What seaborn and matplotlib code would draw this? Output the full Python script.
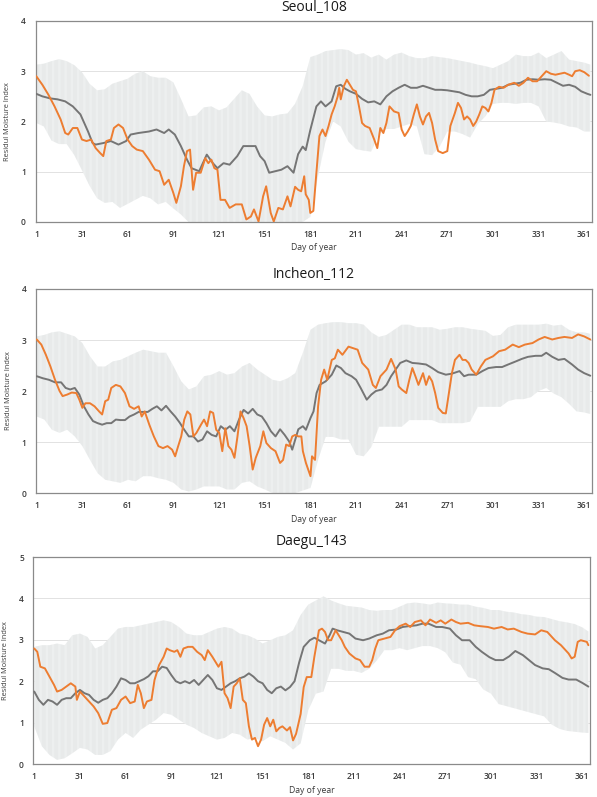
import matplotlib
matplotlib.use("Agg")
import matplotlib.pyplot as plt
import seaborn as sns

# band (error bar range) sampled every 5 days
band_days = list(range(1, 362, 5)) + [365]
day_ticks = list(range(1, 362, 30))

# ---------------- Seoul_108 ----------------
seoul_upper = [3.13, 3.15, 3.2, 3.24, 3.2, 3.12, 2.98, 2.75, 2.62, 2.64,
               2.75, 2.8, 2.85, 2.95, 3.0, 2.9, 2.87, 2.87, 2.78, 2.45,
               2.1, 2.12, 2.28, 2.3, 2.22, 2.28, 2.45, 2.62, 2.55, 2.3,
               2.12, 2.1, 2.14, 2.16, 2.35, 2.7, 3.28, 3.33, 3.4, 3.42,
               3.44, 3.42, 3.33, 3.36, 3.27, 3.33, 3.23, 3.33, 3.37, 3.3,
               3.26, 3.26, 3.3, 3.28, 3.26, 3.23, 3.2, 3.17, 3.13, 3.1,
               3.06, 3.13, 3.2, 3.33, 3.3, 3.3, 3.37, 3.26, 3.33, 3.4,
               3.23, 3.2, 3.17, 3.13]
seoul_lower = [1.97, 1.9, 1.62, 1.55, 1.55, 1.33, 1.03, 0.72, 0.47, 0.38,
               0.4, 0.28, 0.36, 0.44, 0.52, 0.47, 0.35, 0.4, 0.27, 0.15,
               0, 0, 0, 0, 0, 0, 0, 0, 0, 0,
               0, 0, 0, 0, 0, 0, 0.1, 0.9, 1.6, 2.0,
               1.9, 1.6, 1.45, 1.42, 1.4, 1.75, 1.85, 1.85, 1.9, 1.95,
               1.9, 1.35, 1.33, 1.5, 1.8, 1.8, 1.75, 1.68, 1.95, 2.1,
               2.35, 2.37, 2.37, 2.35, 2.37, 2.37, 2.3, 2.0, 1.98, 1.95,
               1.9, 1.88, 1.8, 1.8]
seoul_mean_days = [1, 5, 10, 15, 20, 25, 30, 35, 38, 40, 45, 50, 55, 60, 63, 68, 75, 80, 85, 88,
                   92, 96, 100, 103, 108, 113, 117, 120, 124, 128, 133, 137, 141, 145, 148, 151, 154, 158, 162, 166,
                   170, 173, 176, 178, 181, 185, 188, 191, 195, 198, 201, 204, 207, 211, 215, 219, 223, 227, 231, 235,
                   239, 243, 247, 251, 255, 259, 263, 267, 271, 275, 279, 283, 287, 291, 295, 299, 303, 307, 311, 315,
                   319, 323, 327, 331, 335, 339, 343, 347, 351, 355, 359, 363, 365]
seoul_mean = [2.55, 2.50, 2.46, 2.44, 2.40, 2.30, 2.14, 1.80, 1.57, 1.54, 1.57, 1.61, 1.54, 1.61, 1.74, 1.77, 1.80, 1.84, 1.77, 1.84,
              1.74, 1.51, 1.24, 1.07, 1.01, 1.34, 1.17, 1.07, 1.17, 1.14, 1.31, 1.51, 1.51, 1.51, 1.31, 1.21, 0.98, 1.01, 1.04, 1.11,
              0.98, 1.35, 1.50, 1.43, 1.83, 2.30, 2.40, 2.30, 2.40, 2.70, 2.73, 2.65, 2.60, 2.55, 2.45, 2.38, 2.40, 2.34, 2.50, 2.60,
              2.67, 2.73, 2.67, 2.67, 2.71, 2.67, 2.63, 2.63, 2.62, 2.60, 2.58, 2.53, 2.50, 2.50, 2.53, 2.63, 2.65, 2.67, 2.73, 2.75,
              2.77, 2.83, 2.84, 2.83, 2.84, 2.83, 2.77, 2.71, 2.73, 2.69, 2.60, 2.55, 2.53]
seoul_year_days = [1, 5, 9, 13, 17, 20, 22, 25, 28, 31, 34, 37, 40, 43, 45, 47, 50, 52, 55, 58,
                   61, 64, 67, 71, 75, 79, 82, 85, 88, 91, 93, 96, 98, 100, 102, 104, 106, 109, 112, 114,
                   116, 118, 120, 122, 125, 128, 132, 136, 139, 142, 144, 147, 150, 152, 155, 157, 160, 163, 166, 168,
                   171, 173, 175, 177, 178, 180, 181, 183, 185, 187, 189, 191, 193, 195, 197, 199, 200, 201, 203, 205,
                   207, 209, 211, 213, 215, 217, 220, 223, 225, 227, 229, 231, 233, 236, 239, 241, 243, 245, 247, 249,
                   251, 253, 255, 257, 259, 261, 263, 265, 268, 271, 273, 276, 278, 280, 282, 284, 286, 288, 290, 292,
                   294, 296, 298, 300, 302, 305, 308, 311, 315, 318, 321, 324, 327, 330, 333, 336, 339, 342, 345, 348,
                   351, 353, 355, 358, 361, 364]
seoul_year = [2.90, 2.73, 2.53, 2.30, 2.04, 1.77, 1.74, 1.87, 1.87, 1.64, 1.61, 1.64, 1.47, 1.37, 1.31, 1.61, 1.64, 1.87, 1.94, 1.87,
              1.64, 1.51, 1.44, 1.41, 1.24, 1.04, 1.01, 0.74, 0.84, 0.58, 0.38, 0.71, 1.11, 1.41, 1.44, 0.64, 0.98, 0.98, 1.27, 1.17,
              1.24, 1.07, 1.04, 0.44, 0.44, 0.28, 0.35, 0.35, 0.05, 0.11, 0.25, 0.01, 0.51, 0.71, 0.18, 0.01, 0.28, 0.25, 0.51, 0.31,
              0.70, 0.64, 0.61, 0.91, 0.55, 0.44, 0.18, 0.22, 0.98, 1.71, 1.84, 1.71, 1.91, 2.14, 2.30, 2.50, 2.67, 2.44, 2.70, 2.83,
              2.73, 2.63, 2.60, 2.30, 1.97, 1.91, 1.87, 1.64, 1.47, 1.87, 1.77, 1.97, 2.30, 2.20, 2.17, 1.84, 1.71, 1.80, 1.91, 2.14,
              2.34, 2.10, 1.94, 2.10, 2.17, 1.97, 1.64, 1.41, 1.37, 1.41, 1.91, 2.17, 2.37, 2.27, 2.04, 2.10, 2.04, 1.91, 2.00, 2.14,
              2.30, 2.27, 2.20, 2.37, 2.63, 2.69, 2.67, 2.73, 2.77, 2.71, 2.77, 2.87, 2.80, 2.80, 2.90, 3.00, 2.95, 2.93, 2.95, 2.97,
              2.93, 2.90, 3.00, 3.02, 2.98, 2.91]

# ---------------- Incheon_112 ----------------
incheon_upper = [3.07, 3.1, 3.15, 3.17, 3.12, 3.07, 2.94, 2.68, 2.48, 2.48,
                 2.58, 2.61, 2.68, 2.75, 2.81, 2.78, 2.75, 2.75, 2.48, 2.19,
                 2.03, 2.09, 2.29, 2.32, 2.39, 2.32, 2.35, 2.48, 2.55, 2.42,
                 2.32, 2.22, 2.19, 2.25, 2.35, 2.75, 3.2, 3.3, 3.33, 3.35,
                 3.35, 3.33, 3.33, 3.3, 3.15, 3.06, 3.1, 3.2, 3.3, 3.3,
                 3.25, 3.25, 3.25, 3.2, 3.22, 3.25, 3.25, 3.22, 3.2, 3.18,
                 3.08, 3.1, 3.25, 3.3, 3.3, 3.3, 3.3, 3.32, 3.28, 3.3,
                 3.2, 3.15, 3.15, 3.12]
incheon_lower = [1.5, 1.44, 1.24, 1.18, 1.24, 1.11, 0.92, 0.65, 0.39, 0.26,
                 0.23, 0.2, 0.26, 0.23, 0.33, 0.33, 0.29, 0.26, 0.2, 0.07,
                 0.03, 0.07, 0.13, 0.13, 0.13, 0.07, 0.07, 0.2, 0.23, 0.13,
                 0.07, 0, 0, 0, 0, 0.05, 0.1, 0.65, 1.1, 1.1,
                 1.05, 1.05, 0.75, 0.72, 0.9, 1.3, 1.3, 1.3, 1.3, 1.43,
                 1.43, 1.43, 1.43, 1.37, 1.37, 1.37, 1.37, 1.4, 1.69, 1.69,
                 1.69, 1.69, 1.8, 1.84, 1.84, 1.88, 2.0, 2.06, 1.95, 1.88,
                 1.75, 1.6, 1.58, 1.55]
incheon_mean_days = [1, 5, 9, 13, 17, 20, 23, 26, 29, 32, 35, 38, 41, 44, 47, 50, 53, 56, 59, 62,
                     65, 68, 71, 74, 77, 80, 83, 86, 89, 92, 95, 98, 101, 104, 107, 110, 113, 116, 119, 122,
                     125, 128, 131, 134, 137, 140, 143, 146, 149, 152, 155, 158, 161, 164, 167, 169, 171, 173, 176, 178,
                     181, 183, 185, 187, 191, 195, 198, 201, 204, 208, 211, 214, 218, 221, 224, 228, 231, 234, 237, 240,
                     244, 248, 252, 257, 261, 265, 270, 274, 279, 282, 285, 290, 294, 298, 303, 307, 311, 316, 320, 324,
                     329, 333, 336, 340, 344, 348, 353, 357, 361, 365]
incheon_mean = [2.29, 2.25, 2.22, 2.17, 2.17, 2.06, 2.03, 2.06, 1.93, 1.70, 1.54, 1.41, 1.37, 1.34, 1.37, 1.37, 1.44, 1.43, 1.43, 1.50,
                1.54, 1.59, 1.59, 1.59, 1.65, 1.70, 1.62, 1.71, 1.60, 1.50, 1.38, 1.24, 1.11, 1.11, 1.01, 1.05, 1.21, 1.14, 1.11, 1.31,
                1.24, 1.31, 1.21, 1.44, 1.63, 1.56, 1.65, 1.54, 1.50, 1.37, 1.21, 1.11, 1.25, 1.14, 1.01, 0.85, 1.05, 1.25, 1.31, 1.24,
                1.47, 1.60, 1.96, 2.12, 2.19, 2.32, 2.50, 2.45, 2.35, 2.29, 2.22, 2.06, 1.83, 1.93, 2.00, 2.03, 2.12, 2.29, 2.42, 2.55,
                2.60, 2.55, 2.54, 2.52, 2.45, 2.37, 2.32, 2.34, 2.39, 2.29, 2.32, 2.32, 2.39, 2.45, 2.47, 2.47, 2.52, 2.58, 2.63, 2.67,
                2.69, 2.69, 2.75, 2.67, 2.61, 2.63, 2.52, 2.42, 2.35, 2.30]
incheon_year_days = [1, 4, 7, 10, 13, 16, 18, 21, 24, 27, 29, 31, 33, 36, 39, 42, 44, 46, 48, 50,
                     53, 56, 59, 62, 65, 68, 70, 72, 75, 78, 81, 84, 87, 90, 92, 94, 96, 98, 100, 102,
                     104, 106, 109, 111, 113, 115, 117, 119, 121, 123, 125, 127, 129, 131, 133, 135, 137, 139, 141, 143,
                     145, 148, 150, 152, 155, 158, 161, 163, 165, 167, 169, 171, 173, 175, 176, 178, 181, 182, 184, 186,
                     188, 190, 192, 195, 197, 199, 202, 206, 209, 212, 215, 219, 222, 224, 227, 231, 234, 237, 239, 241,
                     244, 246, 248, 250, 252, 255, 257, 259, 261, 263, 265, 268, 270, 272, 274, 276, 279, 281, 283, 285,
                     287, 290, 293, 296, 301, 305, 309, 314, 318, 322, 327, 331, 335, 340, 344, 348, 353, 357, 361, 365]
incheon_year = [3.01, 2.91, 2.71, 2.48, 2.22, 2.00, 1.90, 1.93, 1.97, 1.96, 1.83, 1.67, 1.76, 1.76, 1.70, 1.60, 1.54, 1.80, 1.83, 2.06,
                2.12, 2.09, 1.96, 1.70, 1.65, 1.70, 1.50, 1.60, 1.34, 1.11, 0.92, 0.88, 0.92, 0.85, 0.72, 0.92, 1.11, 1.44, 1.60, 1.54,
                1.11, 1.18, 1.34, 1.44, 1.31, 1.60, 1.57, 1.24, 1.18, 0.82, 1.27, 0.92, 0.85, 0.69, 1.11, 1.60, 1.47, 1.31, 0.92, 0.46,
                0.69, 0.92, 1.21, 0.98, 0.88, 0.82, 0.59, 0.65, 0.95, 0.92, 1.11, 1.14, 1.11, 1.11, 0.82, 0.59, 0.33, 0.72, 0.65, 1.70,
                2.22, 2.42, 2.22, 2.61, 2.64, 2.81, 2.71, 2.87, 2.84, 2.81, 2.55, 2.42, 2.12, 2.06, 2.29, 2.42, 2.63, 2.42, 2.09, 2.03,
                1.96, 2.22, 2.45, 2.29, 2.12, 2.35, 2.12, 2.29, 2.19, 1.96, 1.67, 1.57, 1.56, 1.96, 2.35, 2.61, 2.71, 2.61, 2.61, 2.55,
                2.42, 2.32, 2.48, 2.61, 2.68, 2.78, 2.81, 2.91, 2.86, 2.91, 2.94, 3.01, 3.06, 3.01, 3.04, 3.06, 3.04, 3.11, 3.07, 3.01]

# ---------------- Daegu_143 ----------------
daegu_upper = [2.83, 2.87, 2.87, 2.91, 2.87, 3.11, 3.15, 3.07, 2.79, 2.87,
               3.07, 3.27, 3.31, 3.31, 3.35, 3.39, 3.43, 3.47, 3.43, 3.31,
               3.15, 3.11, 3.11, 3.19, 3.27, 3.31, 3.27, 3.15, 3.11, 3.03,
               2.91, 2.99, 3.07, 3.11, 3.23, 3.6, 3.85, 3.95, 4.05, 3.95,
               3.88, 3.82, 3.8, 3.78, 3.72, 3.7, 3.72, 3.72, 3.8, 3.88,
               3.9, 3.88, 3.85, 3.9, 3.88, 3.87, 3.85, 3.85, 3.8, 3.77,
               3.72, 3.72, 3.68, 3.66, 3.62, 3.6, 3.56, 3.55, 3.5, 3.45,
               3.42, 3.38, 3.3, 3.2]
daegu_lower = [0.91, 0.43, 0.22, 0.1, 0.14, 0.26, 0.39, 0.35, 0.22, 0.22,
               0.31, 0.59, 0.75, 0.63, 0.83, 0.95, 1.07, 1.23, 1.19, 1.07,
               0.95, 0.87, 0.75, 0.67, 0.59, 0.63, 0.75, 0.71, 0.59, 0.63,
               0.55, 0.67, 0.59, 0.51, 0.35, 0.5, 1.3, 1.7, 1.75, 2.3,
               2.3, 2.25, 2.25, 2.2, 2.3, 2.5, 2.75, 2.75, 2.8, 2.75,
               2.8, 2.85, 2.85, 2.8, 2.7, 2.45, 2.4, 2.1, 2.05, 1.8,
               1.7, 1.45, 1.4, 1.35, 1.3, 1.25, 1.2, 1.15, 0.95, 0.85,
               0.8, 0.78, 0.76, 0.75]
daegu_mean_days = [1, 4, 7, 10, 13, 16, 19, 22, 25, 28, 31, 34, 37, 40, 43, 46, 49, 52, 55, 58,
                   61, 64, 67, 70, 73, 76, 79, 82, 85, 88, 91, 94, 97, 100, 103, 106, 109, 112, 115, 118,
                   121, 124, 127, 130, 133, 136, 139, 142, 145, 148, 151, 154, 157, 160, 163, 166, 169, 172, 175, 178,
                   182, 185, 188, 192, 195, 197, 200, 204, 208, 212, 217, 221, 226, 230, 234, 239, 243, 247, 252, 256,
                   260, 265, 269, 274, 278, 282, 287, 291, 295, 300, 304, 309, 313, 317, 322, 326, 330, 335, 339, 343,
                   348, 352, 357, 361, 365]
daegu_mean = [1.75, 1.55, 1.43, 1.55, 1.51, 1.43, 1.55, 1.59, 1.59, 1.71, 1.79, 1.71, 1.67, 1.55, 1.48, 1.55, 1.59, 1.71, 1.87, 2.07,
              2.03, 1.95, 1.95, 2.00, 2.05, 2.12, 2.24, 2.24, 2.35, 2.32, 2.15, 2.00, 1.95, 2.00, 1.95, 2.03, 1.91, 2.03, 2.15, 2.03,
              1.83, 1.79, 1.87, 1.95, 2.00, 2.07, 2.11, 2.19, 2.11, 2.00, 1.95, 1.79, 1.71, 1.83, 1.87, 1.78, 1.86, 2.00, 2.45, 2.83,
              2.99, 3.05, 2.99, 2.91, 3.11, 3.27, 3.23, 3.19, 3.15, 3.03, 2.99, 3.03, 3.11, 3.15, 3.23, 3.25, 3.31, 3.33, 3.35, 3.39,
              3.39, 3.31, 3.31, 3.27, 3.11, 2.99, 2.99, 2.83, 2.71, 2.58, 2.51, 2.51, 2.60, 2.73, 2.63, 2.51, 2.39, 2.31, 2.29, 2.20,
              2.08, 2.04, 2.04, 1.96, 1.87]
daegu_year_days = [1, 3, 5, 8, 11, 14, 16, 19, 22, 25, 28, 29, 31, 34, 37, 40, 43, 46, 49, 52,
                   55, 58, 61, 64, 67, 69, 71, 73, 75, 78, 80, 83, 86, 88, 90, 93, 95, 97, 99, 102,
                   105, 108, 111, 113, 115, 118, 120, 122, 124, 126, 128, 130, 132, 134, 136, 138, 140, 142, 144, 146,
                   148, 150, 152, 154, 156, 158, 160, 162, 164, 167, 169, 171, 173, 176, 178, 180, 183, 185, 188, 190,
                   192, 194, 196, 199, 201, 203, 205, 208, 212, 215, 218, 221, 223, 225, 227, 231, 235, 238, 241, 245,
                   248, 251, 255, 258, 261, 265, 268, 271, 275, 278, 281, 286, 290, 294, 299, 303, 308, 312, 316, 321,
                   325, 330, 334, 338, 343, 347, 352, 354, 356, 358, 360, 364, 365]
daegu_year = [2.79, 2.71, 2.35, 2.31, 2.11, 1.91, 1.75, 1.79, 1.87, 1.95, 1.87, 1.55, 1.75, 1.63, 1.51, 1.39, 1.23, 0.97, 0.99, 1.31,
              1.35, 1.55, 1.63, 1.47, 1.51, 1.91, 1.71, 1.35, 1.51, 1.55, 2.03, 2.39, 2.59, 2.79, 2.75, 2.71, 2.75, 2.59, 2.79, 2.83,
              2.83, 2.71, 2.63, 2.51, 2.75, 2.59, 2.47, 2.35, 2.47, 1.71, 1.59, 1.35, 1.87, 1.95, 2.07, 1.55, 1.47, 0.91, 0.59, 0.63,
              0.43, 0.59, 0.95, 1.11, 0.91, 1.07, 0.79, 0.87, 0.91, 0.81, 0.89, 0.57, 0.73, 1.21, 1.86, 2.10, 2.10, 2.59, 3.23, 3.27,
              3.19, 2.99, 2.99, 3.23, 3.11, 2.99, 2.83, 2.67, 2.55, 2.51, 2.35, 2.35, 2.51, 2.79, 2.99, 3.03, 3.07, 3.23, 3.33, 3.39,
              3.31, 3.43, 3.47, 3.35, 3.49, 3.41, 3.47, 3.39, 3.49, 3.43, 3.39, 3.41, 3.35, 3.33, 3.31, 3.27, 3.31, 3.25, 3.27, 3.19,
              3.15, 3.13, 3.23, 3.19, 2.99, 2.87, 2.67, 2.55, 2.59, 2.95, 2.99, 2.95, 2.87]

sns.set_style("white")
plt.rcParams['font.family'] = ['Open Sans', 'DejaVu Sans']
plt.rcParams['hatch.linewidth'] = 0.3

orange = '#ED7D31'
gray = '#757575'
txt = '#3a3a3a'

fig = plt.figure(figsize=(5.97, 7.97), dpi=100)

panels = [
    ("Seoul_108", [0.0595, 0.7215, 0.932, 0.2522], 4, 7,
     seoul_mean_days, seoul_mean, seoul_year_days, seoul_year, seoul_upper, seoul_lower),
    ("Incheon_112", [0.0603, 0.3814, 0.931, 0.256], 4, 8,
     incheon_mean_days, incheon_mean, incheon_year_days, incheon_year, incheon_upper, incheon_lower),
    ("Daegu_143", [0.0561, 0.0414, 0.932, 0.2597], 5, 8.5,
     daegu_mean_days, daegu_mean, daegu_year_days, daegu_year, daegu_upper, daegu_lower),
]

for title, pos, ymax, tpad, md, mv, yd, yv, up, lo in panels:
    ax = fig.add_axes(pos)
    # error bar range, drawn as fine vertical strokes
    ax.fill_between(band_days, lo, up, facecolor='#f5f6f6', edgecolor='#d6dbdb',
                    hatch='|' * 14, linewidth=0, zorder=1)
    sns.lineplot(x=md, y=mv, ax=ax, color=gray, lw=1.4, zorder=3)
    sns.lineplot(x=yd, y=yv, ax=ax, color=orange, lw=1.4, zorder=4)

    ax.set_xlim(0.5, 366)
    ax.set_ylim(0, ymax)
    ax.set_xticks(day_ticks)
    ax.set_yticks(range(ymax + 1))
    ax.grid(axis='y', color='#e2e2e2', lw=0.7, zorder=0)
    ax.set_axisbelow(True)
    for s in ax.spines.values():
        s.set_color('#8a8a8a')
        s.set_linewidth(0.9)
    ax.tick_params(axis='both', length=0, labelsize=6, labelcolor=txt)
    ax.tick_params(axis='x', pad=6)
    ax.tick_params(axis='y', pad=7)
    for lab in ax.get_xticklabels() + ax.get_yticklabels():
        lab.set_fontweight('semibold')
    ax.set_title(title, fontsize=10, color='#1a1a1a', pad=tpad)
    ax.set_xlabel("Day of year", fontsize=6.2, color=txt, labelpad=3)
    ax.set_ylabel("Residul Moisture Index", fontsize=5.3, color=txt, labelpad=7)

fig.savefig("out.png", dpi=100)
